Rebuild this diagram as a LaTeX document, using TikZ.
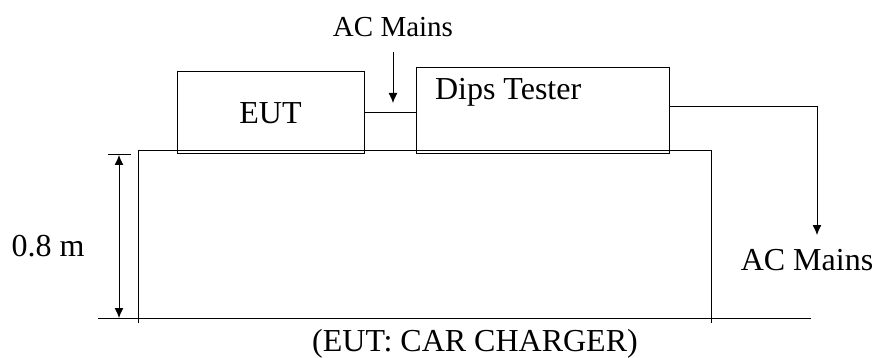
\documentclass[tikz,border=0pt]{standalone}
\usepackage{fontspec}
\setmainfont{Liberation Serif}
\usetikzlibrary{arrows.meta,calc}

\begin{document}
\begin{tikzpicture}[x=1pt,y=-1pt,line width=1pt,
  unit/.style={draw,inner sep=0},
  lbl/.style={inner sep=0,anchor=base,font=\fontsize{32}{36}\selectfont},
  small/.style={lbl,font=\fontsize{29}{33}\selectfont},
  tip/.style={-{Latex[length=10pt,width=9pt]}}]
\useasboundingbox (0,0) rectangle (877,358);

% Draw table and floor
\draw (138,323) -- (138,151) -- (711,151) -- (711,323);
\draw (98,318) -- (811,318);

% Draw boxes
\node[unit,minimum width=187,minimum height=82,font=\fontsize{32}{36}\selectfont] (eut) at (270.5,113) {EUT};
\node[unit,minimum width=253,minimum height=86] (tester) at (542.5,111) {};
\node[lbl,anchor=base west] (testername) at ($(tester.north west)+(19,32)$) {Dips Tester};
\draw (eut.east) -- (eut.east -| tester.west);

% Mains in
\node[small] (mainsin) at (393,37) {AC Mains};
\coordinate (inlettip) at (393,103);
\draw[tip] (mainsin.south) ++(0,14) -- (inlettip);

% Mains out
\node[lbl] (mainsout) at (807,270) {AC Mains};
\coordinate (outlettip) at (817,235);
\draw[tip] ([yshift=4pt]tester.east) -| (outlettip);

% Height of table
\coordinate (dimtop) at (119,155);
\coordinate (dimbot) at (119,318);
\draw[{Latex[length=10pt,width=9pt]}-{Latex[length=10pt,width=9pt]}] (dimtop) -- (dimbot);
\draw (108,155) -- (131,155);
\node[lbl] (height) at (48,256) {0.8 m};

% Caption
\node[lbl] (caption) at (475,351) {(EUT: CAR CHARGER)};
\end{tikzpicture}
\end{document}
